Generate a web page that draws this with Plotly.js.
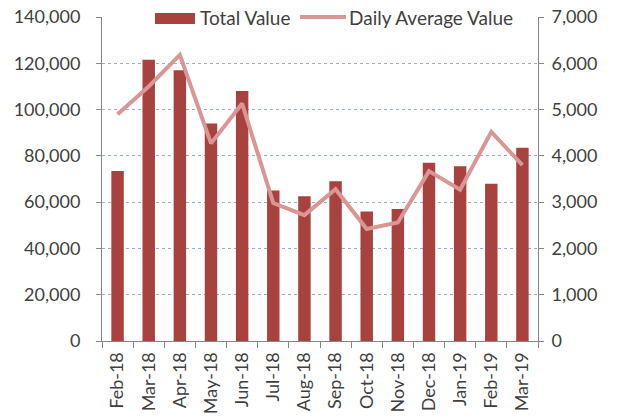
<!DOCTYPE html>
<html>
<head>
<meta charset="utf-8">
<script src="https://cdn.plot.ly/plotly-3.0.1.min.js"></script>
<style>
  html, body { margin: 0; padding: 0; background: #ffffff; }
  #chart { width: 617px; height: 419px; }
</style>
</head>
<body>
<div id="chart"></div>
<script>
const months = ["Feb-18","Mar-18","Apr-18","May-18","Jun-18","Jul-18","Aug-18","Sep-18","Oct-18","Nov-18","Dec-18","Jan-19","Feb-19","Mar-19"];
const totalValue = [73500, 121500, 117000, 94000, 108000, 65000, 62500, 69000, 56000, 57000, 77000, 75500, 68000, 83500];
const dailyAverageValue = [4900, 5500, 6180, 4270, 5130, 2980, 2720, 3280, 2420, 2560, 3670, 3270, 4520, 3800];
const leftTicks = [0, 20000, 40000, 60000, 80000, 100000, 120000, 140000];
const rightTicks = [0, 1000, 2000, 3000, 4000, 5000, 6000, 7000];
const seriesNames = ["Total Value", "Daily Average Value"];

const barColor = "#A8423F";
const lineColor = "#D99694";
const textColor = "#404040";
const axisColor = "#868686";
const FONT = "Lato, 'Open Sans', sans-serif";

const W = 617, H = 419;
const M = {l: 102, r: 79, t: 17, b: 78};
const pw = W - M.l - M.r, ph = H - M.t - M.b;
const px = x => (x - M.l) / pw;
const py = y => 1 - (y - M.t) / ph;

const fmt = v => v.toLocaleString("en-US");

const traces = [
  {
    type: "bar", x: months, y: totalValue, name: seriesNames[0],
    marker: {color: barColor}, yaxis: "y", showlegend: false, hoverinfo: "x+y"
  },
  {
    type: "scatter", mode: "lines", x: months, y: dailyAverageValue, name: seriesNames[1],
    line: {color: lineColor, width: 4}, yaxis: "y2", showlegend: false, hoverinfo: "x+y"
  }
];

const layout = {
  width: W, height: H,
  margin: M,
  paper_bgcolor: "#ffffff", plot_bgcolor: "#ffffff",
  font: {family: FONT, color: textColor, size: 18},
  bargap: 0.6,
  showlegend: false,
  xaxis: {
    type: "category",
    tickangle: -90,
    tickson: "boundaries",
    ticks: "outside", ticklen: 6, tickcolor: axisColor,
    showline: true, linecolor: axisColor, linewidth: 1,
    showgrid: false,
    tickfont: {family: FONT, size: 18, color: textColor},
    ticklabelstandoff: 3
  },
  yaxis: {
    range: [0, 140000],
    tickvals: leftTicks, ticktext: leftTicks.map(fmt),
    ticks: "outside", ticklen: 5, tickcolor: axisColor,
    showline: true, linecolor: axisColor, linewidth: 1,
    showgrid: true, gridcolor: "#95AED6", griddash: "dot", gridwidth: 1,
    zeroline: false,
    tickfont: {family: FONT, size: 18, color: textColor},
    ticklabelstandoff: 12
  },
  yaxis2: {
    overlaying: "y", side: "right",
    range: [0, 7000],
    tickvals: rightTicks, ticktext: rightTicks.map(fmt),
    ticks: "outside", ticklen: 5, tickcolor: axisColor,
    showline: true, linecolor: axisColor, linewidth: 1,
    showgrid: false, zeroline: false,
    tickfont: {family: FONT, size: 18, color: textColor},
    ticklabelstandoff: 4
  },
  shapes: [
    {type: "rect", xref: "paper", yref: "paper",
     x0: px(155), x1: px(195), y0: py(24), y1: py(13),
     fillcolor: barColor, line: {width: 0}},
    {type: "line", xref: "paper", yref: "paper",
     x0: px(300), x1: px(346), y0: py(17), y1: py(17),
     line: {color: lineColor, width: 4}}
  ],
  annotations: [
    {xref: "paper", yref: "paper", x: px(198), y: py(17), xanchor: "left", yanchor: "middle",
     text: seriesNames[0], showarrow: false, font: {family: FONT, size: 19, color: textColor}},
    {xref: "paper", yref: "paper", x: px(347), y: py(17), xanchor: "left", yanchor: "middle",
     text: seriesNames[1], showarrow: false, font: {family: FONT, size: 19, color: textColor}}
  ]
};

Plotly.newPlot("chart", traces, layout, {displayModeBar: false, staticPlot: true});
</script>
</body>
</html>
